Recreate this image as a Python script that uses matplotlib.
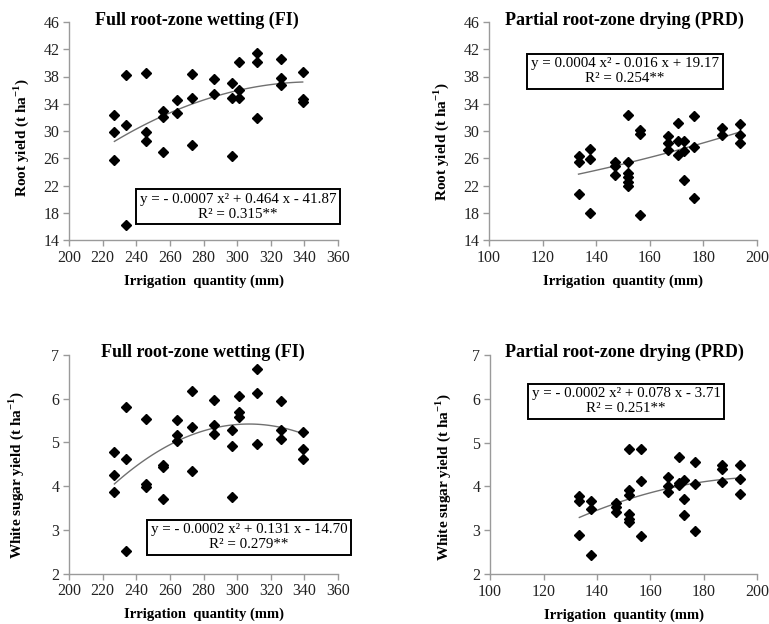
import numpy as np
import matplotlib
matplotlib.use("Agg")
import matplotlib.pyplot as plt

plt.rcParams['font.family'] = ['Liberation Serif', 'DejaVu Serif']
plt.rcParams['mathtext.fontset'] = 'custom'
plt.rcParams['mathtext.rm'] = 'Liberation Serif'
plt.rcParams['mathtext.bf'] = 'Liberation Serif:bold'

# irrigation quantities (mm)
fi_irrigation = [227, 234, 246, 256, 264, 273, 286, 297, 301, 312, 326, 339]
prd_irrigation = [133.4, 137.6, 147, 152, 156.5, 166.7, 170.7, 172.7, 176.5, 186.8, 193.6]

# root yield (t/ha), one list per irrigation level
fi_root = [[32.4, 29.8, 25.7], [38.2, 30.9, 16.2], [38.5, 29.8, 28.6],
           [32.9, 32.1, 26.9], [34.5, 32.7], [38.4, 34.9, 27.9],
           [37.6, 35.4], [37.1, 34.8, 26.4], [40.1, 36.0, 34.8],
           [41.5, 40.2, 31.9], [40.6, 37.8, 36.8], [38.6, 34.7, 34.2]]
prd_root = [[26.4, 25.5, 20.7], [27.4, 25.9, 17.9], [25.4, 24.9, 23.6],
            [32.4, 25.5, 23.9, 23.3, 22.5, 21.9], [30.1, 29.5, 17.7],
            [29.3, 28.2, 27.2], [31.2, 28.6, 26.5], [28.5, 27.1, 22.8],
            [32.2, 27.7, 20.2], [30.5, 29.4], [31.1, 29.4, 28.3]]

# white sugar yield (t/ha)
fi_sugar = [[4.77, 4.25, 3.86], [5.82, 4.61, 2.52], [5.53, 4.05, 3.99],
            [4.48, 4.44, 3.70], [5.51, 5.17, 5.03], [6.18, 5.36, 4.35],
            [5.97, 5.40, 5.19], [5.28, 4.92, 3.76], [6.06, 5.70, 5.59],
            [6.68, 6.14, 4.97], [5.95, 5.28, 5.08], [5.24, 4.86, 4.63]]
prd_sugar = [[3.79, 3.66, 2.89], [3.66, 3.48, 2.44], [3.62, 3.52, 3.41],
             [4.85, 3.92, 3.81, 3.38, 3.25, 3.18], [4.86, 4.13, 2.86],
             [4.21, 4.01, 3.88], [4.67, 4.07, 4.04], [4.15, 3.72, 3.35],
             [4.55, 4.05, 2.98], [4.48, 4.39, 4.10], [4.48, 4.17, 3.82]]

fi_title = "Full root-zone wetting (FI)"
prd_title = "Partial root-zone drying (PRD)"
xlabel = "Irrigation  quantity (mm)"
root_label = r"Root yield (t ha$^{\mathbf{-1}}$)"
sugar_label = r"White sugar yield (t ha$^{\mathbf{-1}}$)"

eq_texts = ["y = - 0.0007 x\u00b2 + 0.464 x - 41.87\nR\u00b2 = 0.315**",
            "y = 0.0004 x\u00b2 - 0.016 x + 19.17\nR\u00b2 = 0.254**",
            "y = - 0.0002 x\u00b2 + 0.131 x - 14.70\nR\u00b2 = 0.279**",
            "y = - 0.0002 x\u00b2 + 0.078 x - 3.71\nR\u00b2 = 0.251**"]

W, H = 769, 624
fig = plt.figure(figsize=(W / 100, H / 100), dpi=100)


def rect(x0, y0, x1, y1):
    # pixel box -> figure fraction
    return [x0 / W, 1 - y1 / H, (x1 - x0) / W, (y1 - y0) / H]


def flatten(levels, groups):
    xs, ys = [], []
    for lv, g in zip(levels, groups):
        xs += [lv] * len(g)
        ys += list(g)
    return np.array(xs), np.array(ys)


# axes box, data, ticks, title, ylabel, title pos, equation pos, ylabel pos
panels = [
    (rect(69, 22, 338, 240), fi_irrigation, fi_root, (200, 360, 20), (14, 46, 4),
     fi_title, root_label, 197, 20, (238, 207), (31, 0.47)),
    (rect(489, 22, 757, 240), prd_irrigation, prd_root, (100, 200, 20), (14, 46, 4),
     prd_title, root_label, 624, 20, (625, 71), (451, 0.45)),
    (rect(69, 355, 338, 573.5), fi_irrigation, fi_sugar, (200, 360, 20), (2, 7, 1),
     fi_title, sugar_label, 203, 352, (249, 537), (26, 0.45)),
    (rect(490, 355, 757.5, 574), prd_irrigation, prd_sugar, (100, 200, 20), (2, 7, 1),
     prd_title, sugar_label, 624, 352, (626, 401), (453, 0.44)),
]

spine_col = '#9a9a9a'
for i, (r, levels, groups, xt, yt, title, ylab, tx, ty, eqpos, ylpos) in enumerate(panels):
    ax = fig.add_axes(r)
    x, y = flatten(levels, groups)
    ax.plot(x, y, 'D', color='black', markersize=5.2, zorder=3)
    c = np.polyfit(x, y, 2)
    xx = np.linspace(x.min(), x.max(), 100)
    ax.plot(xx, np.polyval(c, xx), color='#707070', lw=1.0, zorder=2)

    ax.set_xlim(xt[0], xt[1])
    ax.set_ylim(yt[0], yt[1])
    ax.set_xticks(np.arange(xt[0], xt[1] + 0.1, xt[2]))
    ax.set_yticks(np.arange(yt[0], yt[1] + 0.1, yt[2]))
    for s in ['top', 'right']:
        ax.spines[s].set_visible(False)
    for s in ['left', 'bottom']:
        ax.spines[s].set_color(spine_col)
        ax.spines[s].set_linewidth(1.0)
    ax.tick_params(direction='out', length=4, width=1, color=spine_col,
                   labelsize=11.5, labelcolor='#222222', pad=3)
    ax.set_xlabel(xlabel, fontsize=10.5, fontweight='bold', labelpad=6)
    ax.set_ylabel(ylab, fontsize=11, fontweight='bold')
    ax.yaxis.set_label_coords((ylpos[0] - r[0] * W) / (r[2] * W), ylpos[1])

    fig.text(tx / W, 1 - ty / H, title, fontsize=13, fontweight='bold',
             ha='center', va='center')
    fig.text(eqpos[0] / W, 1 - eqpos[1] / H, eq_texts[i], fontsize=10.8,
             ha='center', va='center', multialignment='center', linespacing=1.15,
             bbox=dict(boxstyle='square,pad=0.25', fc='white', ec='black', lw=1.4))

fig.savefig('out.png', dpi=100)
